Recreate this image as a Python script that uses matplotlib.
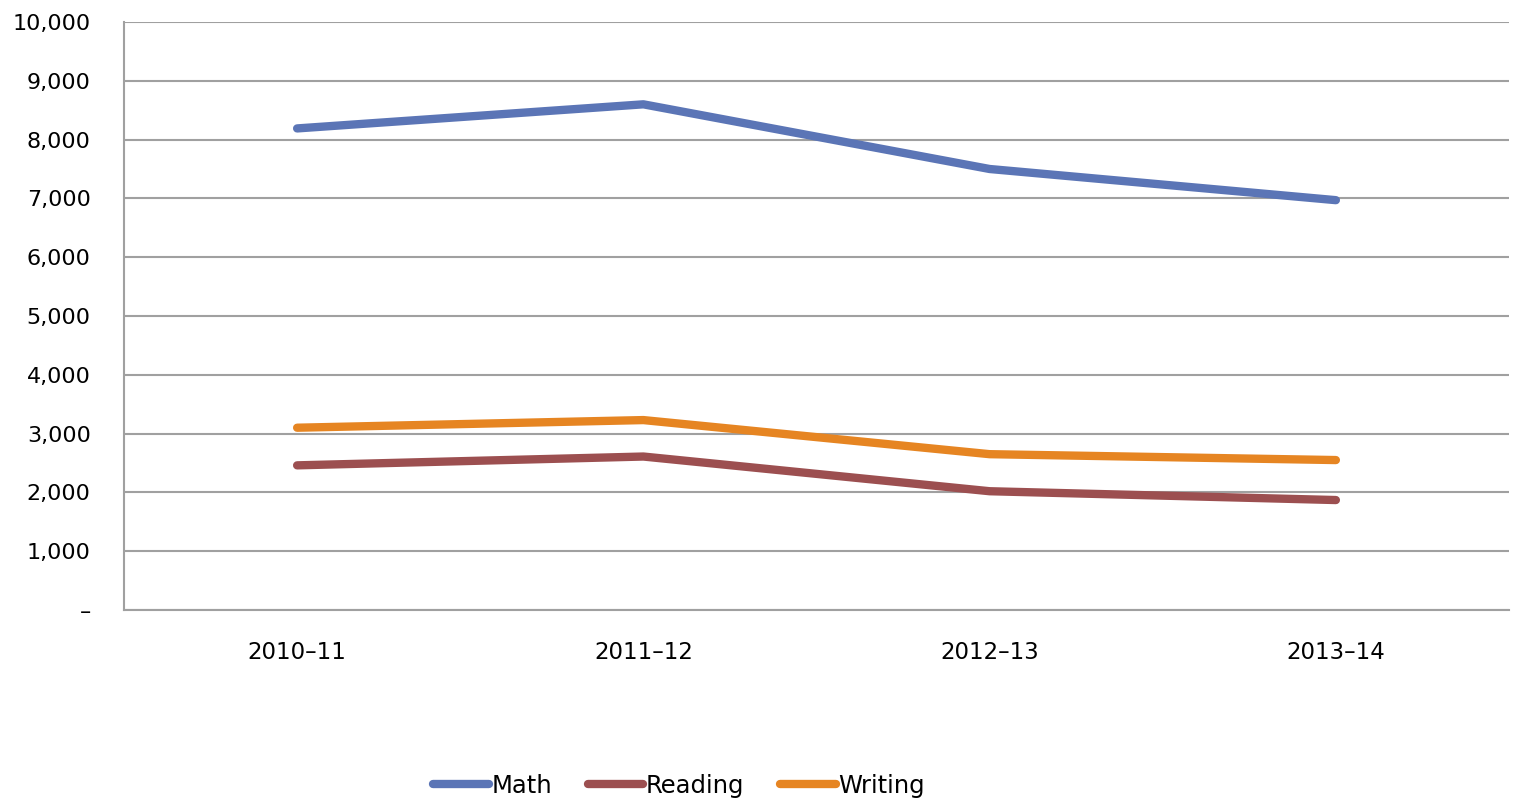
import numpy as np
import matplotlib.pyplot as plt
from matplotlib.ticker import FuncFormatter

years = ["2010\u201311", "2011\u201312", "2012\u201313", "2013\u201314"]
math = [8190, 8600, 7500, 6970]
reading = [2460, 2610, 2020, 1870]
writing = [3100, 3230, 2650, 2550]

series = [("Math", math, "#5b75b6"), ("Reading", reading, "#9c4f50"), ("Writing", writing, "#e68522")]

plt.rcParams['font.family'] = ['DejaVu Sans']
fig = plt.figure(figsize=(15.16, 8.02), dpi=100)
ax = fig.add_axes([124/1516, 1-610/802, (1509-124)/1516, (610-22)/802])

x = np.arange(len(years)) + 0.5
for name, vals, col in series:
    ax.plot(x, vals, color=col, lw=6, solid_capstyle='round', solid_joinstyle='round', label=name)

ax.set_xlim(0, 4)
ax.set_ylim(0, 10000)
ax.set_yticks(np.arange(0, 10001, 1000))
ax.yaxis.set_major_formatter(FuncFormatter(lambda v, p: "\u2013" if v == 0 else "{:,.0f}".format(v)))
ax.set_xticks(x)
ax.set_xticklabels(years)
ax.grid(axis='y', color='#a0a0a0', lw=1.5)
ax.set_axisbelow(True)
for s in ['top', 'right']:
    ax.spines[s].set_visible(False)
for s in ['left', 'bottom']:
    ax.spines[s].set_color('#a0a0a0')
    ax.spines[s].set_linewidth(1.5)
ax.tick_params(axis='y', length=0, pad=24, labelsize=16)
ax.tick_params(axis='x', length=0, pad=22, labelsize=16.5)

leg = fig.legend(loc='center', bbox_to_anchor=(679/1516, 1-786/802), ncol=3, frameon=False,
                 fontsize=17.5, handlelength=2.3, handletextpad=0.1, columnspacing=1.45)
fig.savefig("out.png", dpi=100)
